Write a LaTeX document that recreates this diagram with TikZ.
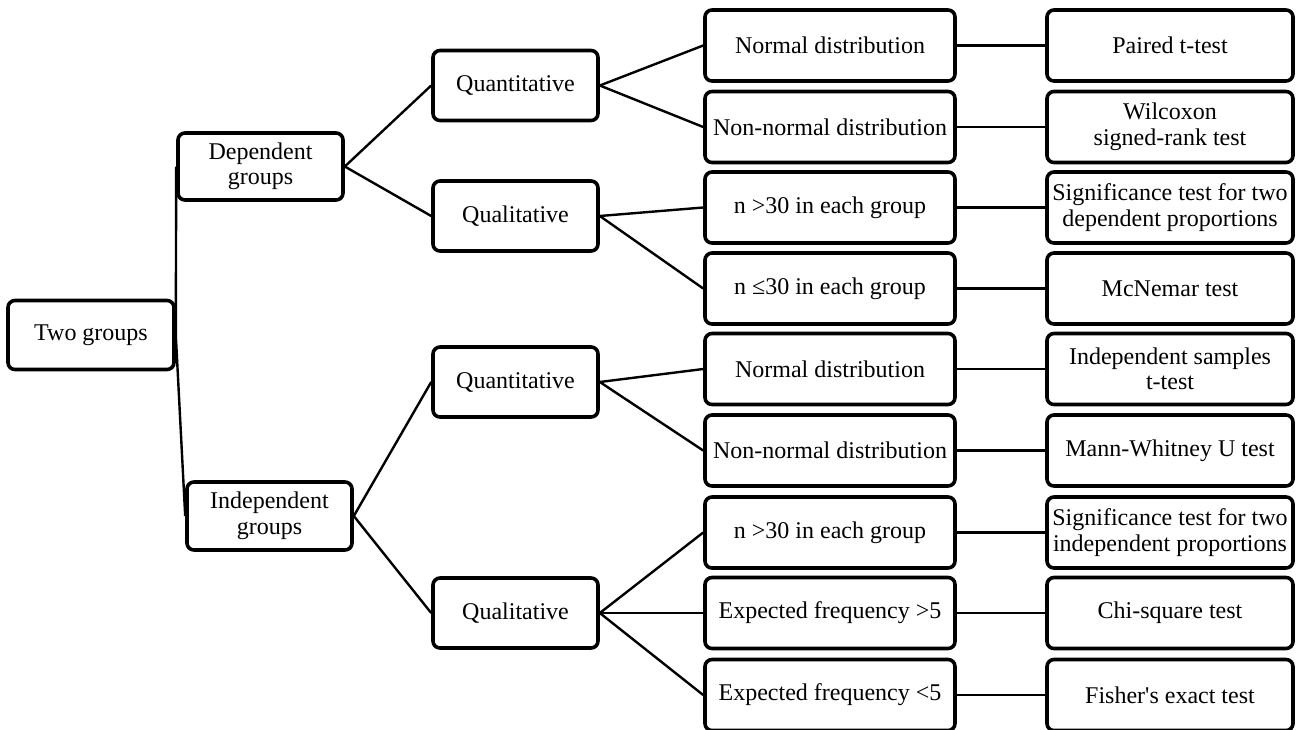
\documentclass[tikz,border=0pt]{standalone}
\usepackage{fontspec}
\defaultfontfeatures[\rmfamily]{}
\setmainfont{Liberation Serif}
\begin{document}
\begin{tikzpicture}[x=1pt,y=-1pt,
  box/.style={draw=black,line width=3.6pt,rounded corners=7pt,align=center,
    inner sep=0pt,font=\fontsize{24}{25.5}\selectfont,fill=white},
  wa/.style={box,minimum width=166pt,minimum height=69pt},
  wb/.style={box,minimum width=165pt,minimum height=70pt},
  wc/.style={box,minimum width=250pt,minimum height=71pt},
  wd/.style={box,minimum width=246pt,minimum height=71pt},
  conn/.style={draw=black,line width=2.4pt}]
\useasboundingbox (0,0) rectangle (1296,729);
% column 1
\node[wa] (two) at (91,335) {Two groups};
% column 2
\node[wb,minimum height=67pt] (dep) at (260.5,166.5) {Dependent\\groups};
\node[wb,minimum height=68pt] (ind) at (269.5,516) {Independent\\groups};
% column 3
\node[wb] (q1) at (515.5,85.5) {Quantitative};
\node[wb] (l1) at (515.5,216) {Qualitative};
\node[wb] (q2) at (515.5,382) {Quantitative};
\node[wb] (l2) at (515.5,613) {Qualitative};
% column 4
\node[wc] (c1) at (830,45.5) {Normal distribution};
\node[wc] (c2) at (830,127) {Non-normal distribution};
\node[wc] (c3) at (830,207.5) {n >30 in each group};
\node[wc] (c4) at (830,288.5) {n ≤30 in each group};
\node[wc] (c5) at (830,369) {Normal distribution};
\node[wc] (c6) at (830,450.5) {Non-normal distribution};
\node[wc] (c7) at (830,532.5) {n >30 in each group};
\node[wc] (c8) at (830,613) {Expected frequency >5};
\node[wc] (c9) at (830,695) {Expected frequency <5};
% column 5
\node[wd] (d1) at (1170,45.5) {Paired t-test};
\node[wd] (d2) at (1170,127) {Wilcoxon\\signed-rank test};
\node[wd] (d3) at (1170,207.5) {Significance test for two\\dependent proportions};
\node[wd] (d4) at (1170,288.5) {McNemar test};
\node[wd] (d5) at (1170,369) {Independent samples\\t-test};
\node[wd] (d6) at (1170,450.5) {Mann-Whitney U test};
\node[wd] (d7) at (1170,532.5) {Significance test for two\\independent proportions};
\node[wd] (d8) at (1170,613) {Chi-square test};
\node[wd] (d9) at (1170,695) {Fisher's exact test};
% connectors
\draw[conn] (two.east) -- (dep.west);
\draw[conn] (two.east) -- (ind.west);
\draw[conn] (dep.east) -- (q1.west);
\draw[conn] (dep.east) -- (l1.west);
\draw[conn] (ind.east) -- (q2.west);
\draw[conn] (ind.east) -- (l2.west);
\draw[conn] (q1.east) -- (c1.west);
\draw[conn] (q1.east) -- (c2.west);
\draw[conn] (l1.east) -- (c3.west);
\draw[conn] (l1.east) -- (c4.west);
\draw[conn] (q2.east) -- (c5.west);
\draw[conn] (q2.east) -- (c6.west);
\draw[conn] (l2.east) -- (c7.west);
\draw[conn] (l2.east) -- (c8.west);
\draw[conn] (l2.east) -- (c9.west);
\foreach \i in {1,...,9} {\draw[conn] (c\i.east) -- (d\i.west);}
\end{tikzpicture}
\end{document}
